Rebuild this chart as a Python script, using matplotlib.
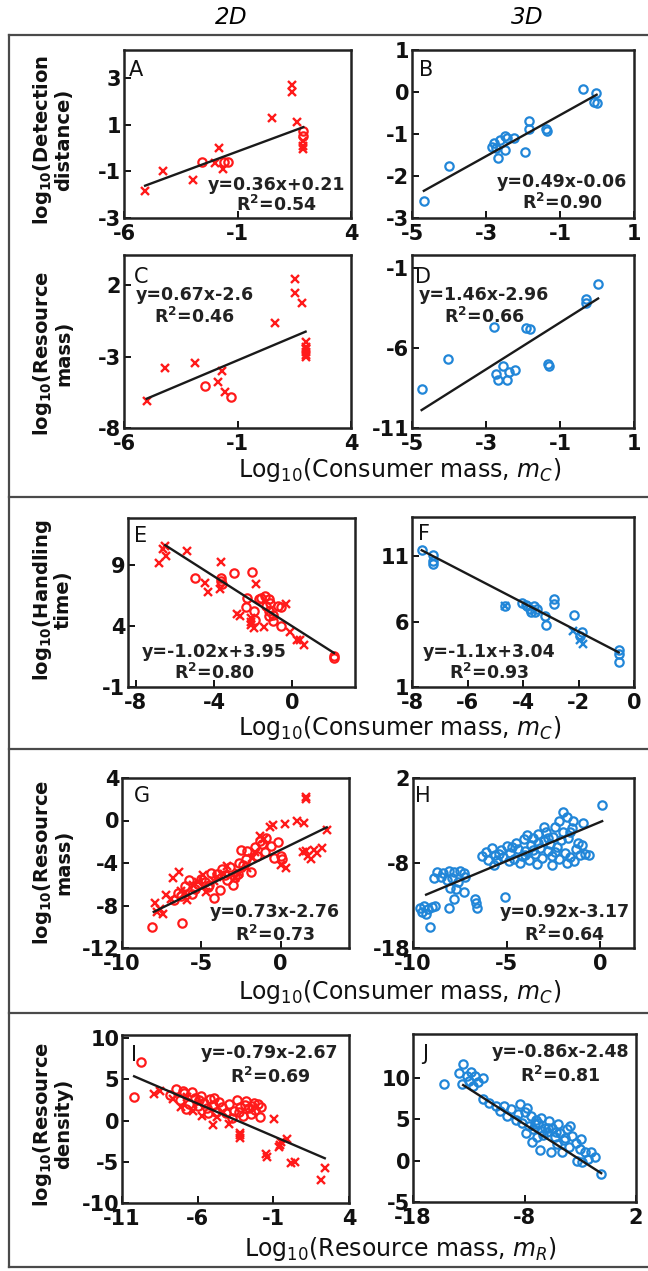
import matplotlib
matplotlib.use('Agg')
import matplotlib.pyplot as plt
from matplotlib.lines import Line2D

plt.rcParams['font.family'] = ['DejaVu Sans']
plt.rcParams['axes.unicode_minus'] = False
plt.rcParams['mathtext.fontset'] = 'dejavusans'

RED = '#ff1a1a'
BLUE = '#2186d8'

# ---------------- data ----------------
# Panel A (2D)
A_cross_x = [-5.07, -4.3, -2.97, -1.8, -2.0, -1.63, 0.5, 1.38, 1.38, 1.63, 1.9, 1.9, 1.9]
A_cross_y = [-1.83, -1.0, -1.37, 0.01, -0.65, -0.89, 1.29, 2.68, 2.4, 1.11, 0.3, 0.1, -0.05]
A_circ_x = [-2.58, -1.6, -1.4, 1.9, 1.9]
A_circ_y = [-0.58, -0.6, -0.6, 0.75, 0.5]
# Panel B (3D)
B_x = [-4.68, -4.0, -2.79, -2.83, -2.74, -2.68, -2.61, -2.48, -2.43, -2.48, -2.25, -1.94,
       -1.83, -1.85, -1.39, -1.36, -0.39, -0.03, -0.08, -0.01]
B_y = [-2.6, -1.76, -1.22, -1.3, -1.34, -1.58, -1.14, -1.05, -1.1, -1.38, -1.1, -1.42,
       -0.69, -0.87, -0.87, -0.94, 0.06, -0.02, -0.23, -0.27]
# Panel C (2D)
C_cross_x = [-5.0, -4.18, -2.87, -1.85, -1.67, -1.54, 0.64, 1.55, 1.55, 1.83, 2.0, 2.0, 2.0, 2.0, 2.0, 2.0]
C_cross_y = [-6.1, -3.78, -3.43, -4.76, -4.0, -5.46, -0.63, 2.4, 1.46, 0.76, -2.0, -2.3, -2.5, -2.7, -2.9, -3.0]
C_circ_x = [-2.45, -1.27]
C_circ_y = [-5.04, -5.86]
# Panel D (3D)
D_x = [-4.74, -4.04, -2.78, -2.72, -2.67, -2.55, -2.38, -2.21, -2.44, -1.91, -1.82,
       -1.32, -1.3, -0.31, -0.31, 0.03]
D_y = [-8.58, -6.67, -4.68, -7.63, -8.03, -7.12, -7.52, -7.38, -8.03, -4.74, -4.8,
       -6.98, -7.1, -2.95, -3.2, -2.0]
# Panel E (2D)
E_cross_x = [-6.82, -6.53, -6.44, -6.6, -5.39, -4.44, -4.32, -3.64, -3.7, -1.85, -2.7, -2.1,
             -1.94, -0.32, -0.12, 0.4, 0.61, 0.23, -2.83, -2.09, -2.1, -1.45]
E_cross_y = [9.14, 10.48, 9.67, 10.3, 10.07, 7.52, 6.72, 9.22, 7.0, 7.44, 4.83, 4.3,
             3.8, 5.77, 3.49, 2.8, 2.47, 2.8, 4.97, 4.03, 4.6, 3.9]
E_circ_x = [-5.0, -3.64, -3.64, -3.6, -2.96, -2.06, -2.36, -1.94, -1.6, -1.17, -1.36, -1.17,
            -1.0, -0.75, -0.58, -2.3, -1.7, -1.14, -0.6, -1.4, -1.2, -1.0, -1.9, 2.13, 2.13]
E_circ_y = [7.87, 7.93, 7.65, 7.4, 8.27, 8.38, 5.5, 5.23, 6.3, 6.18, 5.6, 4.8,
            4.43, 5.59, 4.02, 6.3, 6.2, 5.9, 5.5, 6.4, 5.2, 4.9, 4.5, 1.34, 1.55]
# Panel F (3D)
F_circ_x = [-7.65, -7.26, -7.26, -7.24, -4.65, -4.05, -3.9, -3.75, -3.7, -3.6, -3.5, -3.55,
            -3.85, -2.87, -2.87, -3.2, -3.16, -2.17, -1.87, -1.93, -0.55, -0.55, -0.55]
F_circ_y = [11.45, 11.08, 10.67, 10.42, 7.2, 7.46, 7.3, 7.0, 6.75, 7.2, 7.0, 6.7,
            7.2, 7.72, 7.34, 6.45, 5.77, 6.5, 5.19, 4.9, 3.8, 3.5, 2.9]
F_cross_x = [-4.65, -2.19, -1.93, -1.85]
F_cross_y = [7.2, 5.32, 4.56, 4.3]
# Panel G (2D)
G_circ_x = [-8.1, -6.2, -6.5, -6.0, -5.6, -5.2, -5.0, -4.6, -4.2, -4.0, -3.7, -3.4, -3.2, -3.0,
            -2.7, -2.5, -2.4, -2.1, -1.9, -1.6, -1.3, -1.2, -0.9, -0.6, -0.4, 0.0, 0.1, -1.0,
            -2.2, -4.4, -5.4, -6.3, -3.8, -2.9, -5.8, -4.8, -3.5, -2.6, -1.5, -0.2, -6.7, -4.5]
G_circ_y = [-10.0, -9.6, -6.8, -6.2, -6.9, -6.0, -5.5, -6.3, -7.3, -5.0, -4.6, -5.6, -4.4, -6.1,
            -5.0, -2.8, -4.2, -2.9, -4.8, -2.5, -1.9, -2.2, -1.6, -2.4, -3.5, -3.3, -3.6, -3.0,
            -3.6, -4.9, -6.4, -7.1, -6.5, -5.3, -5.6, -5.8, -5.1, -4.0, -3.3, -2.0, -7.5, -6.1]
G_cross_x = [-7.9, -7.8, -7.4, -7.6, -6.9, -6.8, -6.4, -6.3, -5.9, -5.5, -4.9, -4.7, -4.2, -3.4,
             -2.9, -2.1, -1.6, -1.3, -1.05, -0.7, -0.5, 0.0, 0.3, 0.25, 1.05, 1.45, 1.57, 1.57,
             1.6, 1.7, 1.9, 2.1, 2.3, 2.6, 2.9, 1.4, -5.2, -3.6, -2.6, -1.8, -7.2, -6.0, -4.0]
G_cross_y = [-7.8, -8.6, -8.8, -8.3, -7.4, -5.4, -4.8, -6.6, -7.5, -6.1, -5.1, -6.7, -5.7, -4.3,
             -5.4, -4.5, -3.0, -1.5, -1.7, -0.6, -0.4, -4.2, -4.5, -0.3, 0.0, -0.2, 2.17, 2.0,
             -2.9, -3.3, -3.6, -2.8, -3.1, -2.6, -0.9, -3.0, -5.8, -5.0, -4.9, -3.5, -7.0, -6.8, -5.3]
# Panel H (3D)
H_x = [-9.6, -9.4, -9.2, -9.0, -8.8, -9.5, -9.3, -9.1, -8.1,
       -8.7, -8.4, -8.1, -7.8, -7.5, -7.3, -8.5, -8.2, -7.9, -7.6, -8.0, -7.7, -7.3, -7.8,
       -6.7, -6.65, -6.6, -8.9, -7.2, -5.1,
       -6.1, -6.0, -5.8, -5.6, -5.5, -5.3, -5.2, -5.0, -4.9, -4.8, -4.6, -4.5, -4.4, -4.2,
       -4.1, -4.0, -3.8, -3.7, -3.6, -3.5, -3.3, -3.2, -3.1, -3.0, -2.9, -2.8, -2.7, -2.6,
       -2.5, -2.4, -2.3, -2.2, -2.1, -2.0, -2.0, -1.9, -1.8, -1.7, -1.6, -1.5, -1.44, -1.3,
       -1.2, -1.1, -0.9, -0.8, -0.6, 0.1, -5.7, -4.3, -3.4, -2.6, -1.8, -6.3, -3.9, -3.0,
       -2.2, -1.4, -5.4, -4.7, -3.6, -2.8, -2.4, -1.6, -1.0, -4.0, -3.3]
H_y = [-13.3, -13.1, -13.4, -13.2, -13.0, -13.8, -14.0, -15.5, -13.3,
       -9.0, -9.2, -8.9, -9.1, -8.9, -9.2, -9.6, -10.0, -9.8, -10.2, -10.9, -11.0, -11.4, -12.2,
       -12.2, -12.7, -13.3, -9.8, -9.6, -12.0,
       -6.7, -7.6, -6.2, -7.0, -7.7, -6.5, -7.3, -6.0, -7.8, -6.8, -7.5, -5.6, -6.4, -7.2,
       -5.2, -6.6, -7.6, -5.9, -5.0, -6.9, -4.6, -6.2, -7.4, -5.4, -4.4, -6.6, -5.8, -7.2,
       -4.9, -3.8, -6.1, -7.5, -5.3, -2.0, -4.4, -6.8, -2.6, -5.0, -7.3, -3.9, -3.1, -6.4,
       -5.6, -7.1, -3.3, -6.9, -7.0, -1.2, -8.2, -8.0, -8.1, -8.2, -8.0, -7.2, -4.7, -3.8,
       -3.0, -7.8, -6.9, -6.1, -6.5, -5.1, -6.7, -4.4, -5.9, -7.0, -5.6]
# Panel I (2D)
I_circ_x = [-9.74, -10.22, -7.4, -7.8, -7.2, -6.9, -6.6, -6.4, -6.2, -6.0, -5.8, -5.6, -5.4,
            -5.2, -5.0, -4.8, -4.6, -4.4, -4.1, -3.9, -3.6, -3.4, -3.2, -3.0, -2.8, -2.6, -2.5,
            -2.3, -2.2, -2.0, -1.9, -1.8, -2.9, -3.7, -5.3, -6.8, -7.0, -5.9, -4.9, -3.3, -2.4]
I_circ_y = [7.07, 2.93, 3.9, 3.1, 2.5, 3.3, 2.0, 3.5, 2.8, 1.8, 3.0, 2.2, 1.5,
            2.6, 1.9, 1.1, 2.3, 1.6, 0.9, 2.0, 1.2, 2.5, 1.7, 0.6, 2.4, 1.5, 0.8,
            2.2, 1.3, 2.0, 0.5, 1.6, 1.9, 0.3, 0.9, 1.4, 3.6, 2.5, 2.8, 1.0, 1.8]
I_cross_x = [-8.9, -8.5, -7.6, -7.1, -6.7, -6.3, -5.9, -5.7, -5.0, -4.7, -4.3, -3.9, -3.18,
             -3.18, -3.2, -0.95, -1.5, -1.45, -0.6, -0.12, -0.5, 0.17, 0.4, 2.12, 2.4, -0.53]
I_cross_y = [3.2, 3.6, 2.6, 1.7, 2.9, 1.2, 2.1, 0.6, -0.57, 0.4, 1.0, -0.4, -1.46,
             -2.07, -1.8, 0.16, -4.1, -4.4, -3.2, -2.28, -2.6, -5.1, -5.0, -7.15, -5.73, -2.9]
# Panel J (3D)
J_x = [-15.2, -13.53, -13.9, -13.16, -12.8, -12.4, -12.6, -11.7, -13.6, -13.0, -12.2, -11.7,
       -11.2, -10.6, -9.83, -9.2, -8.4, -8.0, -8.6, -7.8, -7.4, -7.0, -8.2, -7.6, -7.2, -6.8,
       -6.5, -6.2, -6.0, -5.8, -5.5, -5.3, -5.0, -4.8, -4.5, -4.2, -3.9, -3.7, -3.4, -3.0,
       -2.97, -2.6, -2.3, -2.0, -1.7, -1.12, -7.3, -6.6, -5.6, -4.6, -3.3, -2.8, -8.8, -7.9,
       -6.9, -6.3, -5.1, -4.0, -9.6, -10.2, -7.1, -6.4, -5.9, -5.2, -4.4]
J_y = [9.24, 11.65, 10.64, 10.24, 10.7, 10.2, 9.04, 10.0, 9.3, 9.6, 9.5, 7.4,
       7.0, 6.6, 6.63, 6.2, 6.8, 5.9, 5.6, 6.3, 5.4, 4.9, 4.5, 4.2, 3.8, 4.6,
       5.2, 4.0, 3.4, 4.8, 3.9, 2.9, 4.4, 3.3, 2.5, 3.8, 4.2, 3.0, 2.1, 1.4,
       2.6, 1.0, 0.2, 1.1, 0.4, -1.6, 2.2, 1.3, 1.1, 1.0, 0.0, -0.2, 4.9, 3.3,
       2.8, 3.1, 2.0, 1.6, 5.4, 6.0, 4.4, 3.6, 3.9, 3.5, 2.7]

slopes = [0.36, 0.49, 0.67, 1.46, -1.02, -1.1, 0.73, 0.92, -0.79, -0.86]
intercepts = [0.21, -0.06, -2.6, -2.96, 3.95, 3.04, -2.76, -3.17, -2.67, -2.48]
r2_labels = ['0.54', '0.90', '0.46', '0.66', '0.80', '0.93', '0.73', '0.64', '0.69', '0.81']
fit_x_start = [-5.07, -4.68, -5.0, -4.74, -6.5, -7.65, -8.0, -9.3, -10.2, -13.5]
fit_x_end = [1.9, -0.01, 2.0, 0.03, 2.13, -0.55, 2.9, 0.1, 2.4, -1.12]
letters = ['A', 'B', 'C', 'D', 'E', 'F', 'G', 'H', 'I', 'J']

# ---------------- layout ----------------
W, H = 648, 1271
fig = plt.figure(figsize=(W / 100, H / 100), dpi=100)


def box(l, t, r, b):
    return [l / W, 1 - b / H, (r - l) / W, (b - t) / H]


boxes = [box(124, 50, 351, 218), box(412, 50, 634, 218),
         box(124, 255, 351, 428), box(412, 255, 634, 428),
         box(128, 518, 355, 687), box(412, 517, 634, 687),
         box(122, 778, 349, 948), box(413, 778, 634, 948),
         box(122, 1035, 349, 1203), box(413, 1034, 636, 1202)]
xlims = [(-6, 4), (-5, 1), (-6, 4), (-5, 1), (-8.4, 3.2), (-8, 0), (-10, 4.3), (-10, 1.8),
         (-11, 4), (-18, 2)]
ylims = [(-3, 4.2), (-3, 1), (-8, 4.1), (-11, -0.2), (-1, 12.8), (1, 14), (-12, 4), (-18, 2),
         (-10, 10.4), (-5, 15.3)]
xticks = [[-6, -1, 4], [-5, -3, -1, 1], [-6, -1, 4], [-5, -3, -1, 1], [-8, -4, 0],
          [-8, -6, -4, -2, 0], [-10, -5, 0], [-10, -5, 0], [-11, -6, -1, 4], [-18, -8, 2]]
yticks = [[-3, -1, 1, 3], [-3, -2, -1, 0, 1], [-8, -3, 2], [-11, -6, -1], [-1, 4, 9],
          [1, 6, 11], [-12, -8, -4, 0, 4], [-18, -8, 2], [-10, -5, 0, 5, 10], [-5, 0, 5, 10]]
eq_pos = [(0.67, 0.196, 0.077), (0.676, 0.214, 0.089), (0.31, 0.77, 0.64), (0.325, 0.77, 0.64),
          (0.38, 0.207, 0.083), (0.347, 0.207, 0.083), (0.674, 0.21, 0.076),
          (0.688, 0.21, 0.076), (0.652, 0.893, 0.75), (0.66, 0.893, 0.75)]
letter_pos = [(0.02, 0.94), (0.03, 0.94), (0.044, 0.93), (0.014, 0.93), (0.027, 0.95),
              (0.027, 0.96), (0.053, 0.95), (0.01, 0.95), (0.04, 0.94), (0.04, 0.94)]

series = [
    [(A_cross_x, A_cross_y, 'x', RED), (A_circ_x, A_circ_y, 'o', RED)],
    [(B_x, B_y, 'o', BLUE)],
    [(C_cross_x, C_cross_y, 'x', RED), (C_circ_x, C_circ_y, 'o', RED)],
    [(D_x, D_y, 'o', BLUE)],
    [(E_cross_x, E_cross_y, 'x', RED), (E_circ_x, E_circ_y, 'o', RED)],
    [(F_circ_x, F_circ_y, 'o', BLUE), (F_cross_x, F_cross_y, 'x', BLUE)],
    [(G_circ_x, G_circ_y, 'o', RED), (G_cross_x, G_cross_y, 'x', RED)],
    [(H_x, H_y, 'o', BLUE)],
    [(I_circ_x, I_circ_y, 'o', RED), (I_cross_x, I_cross_y, 'x', RED)],
    [(J_x, J_y, 'o', BLUE)],
]

for i in range(10):
    ax = fig.add_axes(boxes[i])
    for xs, ys, mk, col in series[i]:
        if mk == 'o':
            ax.plot(xs, ys, linestyle='none', marker='o', mfc='none', mec=col, ms=6, mew=1.6)
        else:
            ax.plot(xs, ys, linestyle='none', marker='x', color=col, ms=6, mew=1.7)
    x0, x1 = fit_x_start[i], fit_x_end[i]
    ax.plot([x0, x1], [slopes[i] * x0 + intercepts[i], slopes[i] * x1 + intercepts[i]],
            color='#1a1a1a', lw=1.7)
    ax.set_xlim(*xlims[i])
    ax.set_ylim(*ylims[i])
    ax.set_xticks(xticks[i])
    ax.set_yticks(yticks[i])
    ax.tick_params(direction='in', length=5, width=1.4, labelsize=15, colors='#111111')
    ax.tick_params(axis='x', pad=4)
    ax.tick_params(axis='y', pad=2)
    for lab in ax.get_xticklabels() + ax.get_yticklabels():
        lab.set_fontweight('bold')
    for sp in ax.spines.values():
        sp.set_linewidth(1.8)
        sp.set_color('#222222')
    sgn = '+' if intercepts[i] >= 0 else ''
    ex, ey1, ey2 = eq_pos[i]
    ax.text(ex, ey1, 'y=%sx%s%s' % (slopes[i], sgn, intercepts[i]), transform=ax.transAxes,
            ha='center', va='center', fontsize=12.5, fontweight='bold', color='#222222')
    ax.text(ex, ey2, 'R$^{\\mathbf{2}}$=' + r2_labels[i], transform=ax.transAxes,
            ha='center', va='center', fontsize=12.5, fontweight='bold', color='#222222')
    lx, ly = letter_pos[i]
    ax.text(lx, ly, letters[i], transform=ax.transAxes, ha='left', va='top', fontsize=15,
            color='#111111')

# column headings
fig.text(231 / W, 1 - 18 / H, '2$\\mathit{D}$', ha='center', va='center', fontsize=16.5,
         style='italic')
fig.text(527 / W, 1 - 18 / H, '3$\\mathit{D}$', ha='center', va='center', fontsize=16.5,
         style='italic')

# y labels
ylabels = ['log$_{\\mathbf{10}}$(Detection\ndistance)', 'log$_{\\mathbf{10}}$(Resource\nmass)',
           'log$_{\\mathbf{10}}$(Handling\ntime)', 'log$_{\\mathbf{10}}$(Resource\nmass)',
           'log$_{\\mathbf{10}}$(Resource\ndensity)']
ylabel_y = [140, 353, 600, 862, 1124]
for lab, yy in zip(ylabels, ylabel_y):
    fig.text(52 / W, 1 - yy / H, lab, rotation=90, ha='center', va='center',
             multialignment='center', fontsize=14, fontweight='bold', linespacing=1.0,
             color='#111111')

# x labels
xlabels = ['Log$_{10}$(Consumer mass, $m_C$)', 'Log$_{10}$(Consumer mass, $m_C$)',
           'Log$_{10}$(Consumer mass, $m_C$)', 'Log$_{10}$(Resource mass, $m_R$)']
xlabel_y = [470, 728, 992, 1249]
for lab, yy in zip(xlabels, xlabel_y):
    fig.text(400 / W, 1 - yy / H, lab, ha='center', va='center', fontsize=17, color='#111111')

# outer frame
fc = '#4a4a4a'
for yy in [35, 497, 749, 1013, 1267]:
    fig.add_artist(Line2D([9 / W, 1.0], [1 - yy / H, 1 - yy / H], transform=fig.transFigure,
                          color=fc, lw=1.6))
fig.add_artist(Line2D([9 / W, 9 / W], [1 - 35 / H, 1 - 1267 / H], transform=fig.transFigure,
                      color=fc, lw=1.6))

fig.savefig('out.png', dpi=100)
